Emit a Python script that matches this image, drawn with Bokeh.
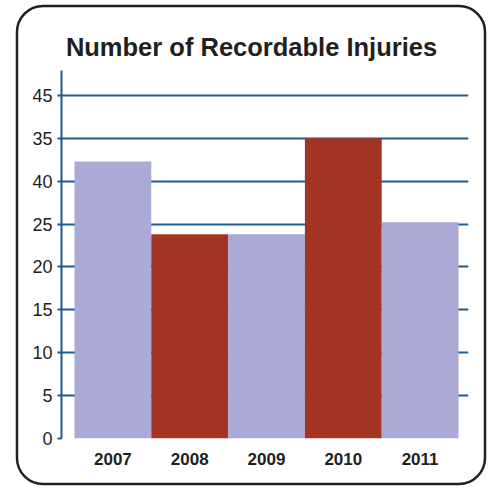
from urllib.parse import quote

from bokeh.plotting import figure
from bokeh.models import Label, FixedTicker, Range1d, ColumnDataSource
from bokeh.embed import file_html
from bokeh.resources import INLINE

# Data
years = ["2007", "2008", "2009", "2010", "2011"]
injuries = [32.3, 23.8, 23.8, 35.0, 25.2]
bar_colors = ["#abaad6", "#a33423", "#abaad6", "#a33423", "#abaad6"]
y_ticks = [0, 5, 10, 15, 20, 25, 30, 35, 40]
y_tick_labels = ["0", "5", "10", "15", "20", "25", "40", "35", "45"]
chart_title = "Number of Recordable Injuries"

BLUE = "#1f5a8f"
INK = "#231f20"
W, H = 492, 487

# rounded outline around the whole chart, painted behind the (transparent) canvas
outline_svg = (
    f'<svg xmlns="http://www.w3.org/2000/svg" width="{W}" height="{H}">'
    f'<rect x="17" y="6" width="468" height="478" rx="26" ry="26" '
    f'fill="white" stroke="{INK}" stroke-width="2.5"/></svg>'
)

positions = list(range(1, len(years) + 1))
source = ColumnDataSource(dict(x=positions, top=injuries, color=bar_colors))

p = figure(
    width=W, height=H,
    output_backend="svg", toolbar_location=None,
    x_range=Range1d(0.5 - 0.169, len(years) + 0.5 + 0.13),
    y_range=Range1d(0, 42.9),
    min_border_left=61, min_border_right=24,
    min_border_top=70, min_border_bottom=49,
    styles={
        "background-color": "white",
        "background-image": f'url("data:image/svg+xml,{quote(outline_svg)}")',
        "background-repeat": "no-repeat",
    },
)
p.outline_line_color = None
p.background_fill_color = "white"
p.border_fill_color = None

# horizontal rules sit behind the bars
p.xgrid.visible = False
p.ygrid.ticker = FixedTicker(ticks=y_ticks)
p.ygrid.grid_line_color = BLUE
p.ygrid.grid_line_width = 2

p.vbar(x="x", top="top", bottom=0, width=1.0, fill_color="color",
       line_color=None, source=source)

# y axis with its tick labels
p.yaxis.ticker = FixedTicker(ticks=y_ticks)
p.yaxis.major_label_overrides = {t: s for t, s in zip(y_ticks, y_tick_labels)}
p.yaxis.axis_line_color = BLUE
p.yaxis.axis_line_width = 2
p.yaxis.major_tick_line_color = BLUE
p.yaxis.major_tick_line_width = 2
p.yaxis.major_tick_out = 4
p.yaxis.major_tick_in = 0
p.yaxis.minor_tick_line_color = None
p.yaxis.major_label_text_font = "Liberation Sans"
p.yaxis.major_label_text_font_size = "18px"
p.yaxis.major_label_text_color = INK
p.yaxis.major_label_standoff = 5

# x axis: year labels only
p.xaxis.ticker = FixedTicker(ticks=positions)
p.xaxis.major_label_overrides = {x: y for x, y in zip(positions, years)}
p.xaxis.axis_line_color = None
p.xaxis.major_tick_line_color = None
p.xaxis.minor_tick_line_color = None
p.xaxis.major_tick_out = 0
p.xaxis.major_tick_in = 0
p.xaxis.major_label_text_font = "Liberation Sans"
p.xaxis.major_label_text_font_style = "bold"
p.xaxis.major_label_text_font_size = "17px"
p.xaxis.major_label_text_color = INK
p.xaxis.major_label_standoff = 14

# heading sits in the top panel, positioned in canvas pixels
p.add_layout(Label(
    x=251, y=46, x_units="canvas", y_units="canvas", text=chart_title,
    text_align="center", text_baseline="alphabetic",
    text_font="Liberation Sans", text_font_style="bold",
    text_font_size="25.5px", text_color=INK,
), "above")

open("out.html", "w").write(file_html(p, INLINE))
